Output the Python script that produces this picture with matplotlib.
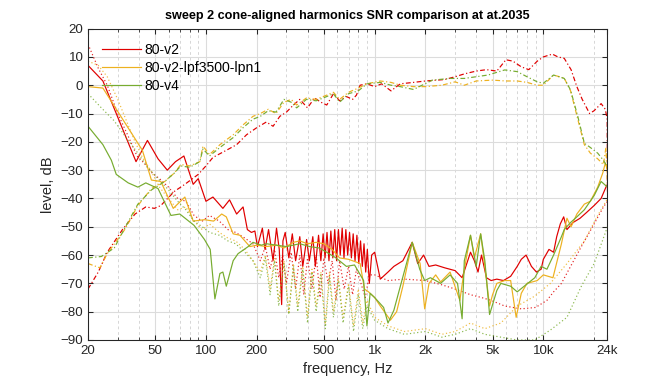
import matplotlib
matplotlib.use('Agg')
import matplotlib.pyplot as plt
from matplotlib.ticker import FixedLocator, NullFormatter

plt.rcParams['font.family'] = ['Liberation Sans', 'DejaVu Sans']

# values (Hz, dB)

# 80-v2 : harmonics (solid)
f_v2_h = [20, 24.5, 38.5, 45, 52, 59, 66, 74, 84, 90, 100, 110, 126, 138, 152, 166, 176, 186, 195, 202,
          216, 224, 235, 250, 262, 272, 281, 286, 295, 310, 325, 340, 360, 375, 395, 410, 430, 445, 465,
          480, 495, 508, 522, 536, 550, 565, 580, 595, 610, 625, 642, 658, 675, 692, 710, 728, 746, 765, 785,
          805, 825, 845, 865, 885, 905, 930, 960, 1000,
          1080, 1200, 1300, 1470, 1670, 1800, 1950, 2100, 2300, 2600, 3000, 3300, 3700, 3900, 4100, 4300, 4600, 4900, 5300, 5800,
          6400, 7000, 7400, 7900, 8500, 9100, 9700, 10000, 10800, 11500, 12000, 12600, 13200, 13800, 15000, 16500, 18000, 20000, 22000, 23500,
          24000]
v2_h = [7, 1.5, -27, -19.5, -26, -30, -27, -25, -35, -33, -41, -39.5, -43.5, -40.5, -45.5, -43, -51, -52, -51.5, -57,
        -50.5, -58, -51, -62, -50.5, -58, -77.5, -55, -52, -61, -52.5, -62, -53.5, -64, -54.5, -62, -53.5, -64, -53,
        -62, -52.5, -61, -52, -62, -51.5, -61, -51, -62, -51, -60, -50.5, -61, -51, -60, -52, -61, -52.5, -62, -53,
        -63, -55, -64, -56, -66, -58, -70, -60, -59,
        -68.5, -66, -64, -62, -55.5, -63, -60, -64, -63.5, -64.5, -65.5, -68, -59, -62, -66, -60, -68, -69, -68.5, -69,
        -67.5, -64, -61.5, -60, -64, -66, -65, -61.5, -58, -59, -53.5, -49, -46.5, -51, -48.5, -47, -45, -42.5, -40, -36,
        -35]

# 80-v2 : SNR (dash-dot)
f_v2_s = [20, 23, 26, 32, 38, 44, 49.5, 54, 65, 75, 90, 100, 110, 132, 152, 174, 200, 228, 250, 274,
          300, 330, 360, 400, 440, 480, 520, 570, 620, 680, 740, 780, 820, 900, 1000, 1100, 1250, 1420, 1700, 2000,
          2600, 3000, 3400, 4000, 4600, 5300, 6000, 6600, 7400, 8200, 9200, 10000, 11300, 12200, 13300, 14600, 15800, 17000, 18800, 20000,
          22000, 23300, 23900, 24000]
v2_s = [-72, -66, -59, -51, -45.5, -43, -43.5, -42.5, -37.5, -35, -31.5, -28.5, -25.5, -23, -21, -17.5, -15, -13, -14.5, -11,
        -9.5, -7, -5, -8, -4.5, -6, -7, -3, -5.5, -4, -5, -3.5, 0, 0.5, -0.5, 0.5, -2, 0.5, 1, 1.5,
        2, 3, 4, 5, 5.5, 5, 9, 8.5, 6.5, 5.5, 8.5, 10, 11, 10, 9.5, 5.5, -0.5, -5, -10, -9,
        -6.5, -8.5, -12, -38]

# 80-v2 : noise (dotted)
f_v2_n = [20, 23, 26, 30, 34.6, 39, 43, 48, 53, 60, 68, 76, 85, 95, 105, 120, 135, 150, 170, 190,
          210, 225, 240, 255, 270, 285, 300, 320, 340, 360, 380, 400, 425, 450, 475, 500, 530, 560, 590, 620,
          660, 700, 740, 780, 830, 880, 930, 1000, 1200, 1500, 2000, 2500, 3000, 3700, 4300, 4900, 5900, 7400, 9000, 10500,
          11500, 12800, 14500, 16800, 20000, 22700, 24000]
v2_n = [14.5, 6, 0, -10, -18, -25, -27.5, -31, -33, -36, -40, -41, -46, -48, -46, -48, -51, -52, -54, -56,
        -62, -57, -65, -58, -68, -60, -70, -59, -72, -60, -74, -61, -72, -60, -75, -61, -70, -62, -76, -62,
        -72, -64, -74, -65, -70, -75, -67, -67, -69, -68.5, -69, -70.5, -72, -74, -75, -76, -78, -79, -78.5, -76,
        -73, -70, -64, -57, -49, -43, -41]

# 80-v2-lpf3500-lpn1
f_lpf_h = [20, 24.5, 42, 47.5, 54, 64, 75, 84, 98, 111, 124, 132, 145, 159, 182, 200, 228, 262, 290, 330,
           360, 400, 450, 500, 560, 620, 700, 780, 820, 870, 920, 1000, 1080, 1240, 1350, 1470, 1670, 1860, 1980, 2100,
           2300, 2460, 2800, 3200, 3400, 3700, 3900, 4250, 4500, 4800, 5000, 5300, 5900, 6400, 6900, 7400, 8000, 9200, 10000, 11400,
           12800, 13800, 14600, 15800, 17500, 19000, 21000, 22500, 23300, 24000]
lpf_h = [-0.5, -1, -23, -33.5, -34, -43.5, -39.5, -48, -47.5, -48, -45.5, -46.5, -52.5, -53, -57, -56.5, -57, -56.5, -57.5, -55.5,
         -55, -56, -55.5, -56, -58, -61, -61.5, -62.5, -63, -72, -73, -75, -78, -83, -80, -71, -55.5, -63, -79, -70,
         -67, -69.5, -66, -76, -65, -53, -61, -52.5, -64, -78, -74, -70, -69, -69, -82, -73.5, -70, -69, -67, -68,
         -56, -47, -50, -45.5, -42, -41, -36, -31, -27.5, -30]

f_lpf_s = [20, 23.5, 26, 33, 39.5, 47.5, 57, 65, 71, 80, 92, 96, 105, 121, 145, 166, 190, 210, 234, 260,
           290, 320, 345, 394, 450, 520, 570, 620, 700, 800, 900, 1080, 1250, 1420, 1700, 2000, 2500, 3000, 3400, 4000,
           5000, 6000, 7000, 8000, 9200, 10000, 11500, 13300, 14500, 16000, 17500, 19000, 21000, 22700, 23500, 24000]
lpf_s = [-63, -64.5, -59.5, -51, -42.5, -36.5, -34, -31, -28, -28.5, -27, -21.5, -24.5, -21, -17.5, -14, -11, -10, -8.5, -10,
         -6, -5, -7, -4.5, -5, -3.5, -2.5, -5, -2.5, -1, 0.5, 1.5, 1, 0, -0.5, -0.5, 0, 1.2, 0, 1.5,
         1.8, 1.5, 1.5, 1, 0, 0, 3.6, 2.5, -2, -12, -21, -24, -26, -28, -22, -36]

f_lpf_n = [20, 23, 26, 30, 34, 38, 42, 47, 53, 60, 68, 76, 85, 95, 105, 120, 135, 150, 170, 190,
           210, 225, 240, 255, 270, 290, 310, 330, 350, 375, 400, 425, 450, 480, 510, 540, 570, 610, 650, 700,
           750, 800, 850, 900, 1000, 1200, 1500, 2000, 2500, 3000, 3700, 4500, 5600, 7000, 8900, 11000, 13800, 17500, 21000, 23000,
           24000]
lpf_n = [8.5, 7, 3, -5, -13, -20, -25.5, -30, -36, -40, -44, -43, -48, -51, -49, -52, -54, -55, -58, -62,
         -66, -60, -72, -61, -76, -62, -80, -63, -78, -64, -82, -65, -78, -66, -84, -66, -80, -68, -82, -70,
         -85, -72, -84, -76, -82, -85, -87, -86, -88, -87, -84, -86, -84, -78, -74.5, -70, -63, -55, -46, -42,
         -40]

# 80-v4
f_v4_h = [20, 24.5, 27.5, 29.4, 34.6, 39.5, 44, 52, 62, 70, 85, 98, 106, 113, 121, 126, 132, 145, 155, 178,
          190, 213, 228, 262, 300, 360, 412, 470, 520, 590, 680, 760, 860, 900, 940, 1000, 1130, 1200, 1300, 1420,
          1670, 1850, 1980, 2140, 2300, 2460, 2800, 3100, 3300, 3400, 3700, 4000, 4250, 4500, 4800, 5300, 5600, 6400, 7000, 7700,
          8900, 9700, 10500, 11500, 12800, 13300, 14500, 15800, 17500, 20000, 22000, 24000]
v4_h = [-14.5, -21, -26.5, -31.5, -34.5, -36, -34.5, -36.5, -46, -45.5, -49.5, -54.5, -58, -75.5, -66.5, -66, -71, -62, -59.5, -57,
        -55.5, -56.5, -56, -56.5, -57, -56, -57, -57.5, -59, -61, -64, -63.5, -69, -85, -73.5, -75, -78.5, -84, -79.5, -71,
        -55.5, -65, -69, -68, -69, -70, -67, -70, -82.5, -62, -53, -64, -52.5, -62, -81, -72.5, -70, -71, -73, -71,
        -68, -64, -65, -60, -53.5, -51, -48.5, -46.5, -44, -39, -34, -36]

f_v4_s = [20, 24, 28.6, 33, 39.5, 47.5, 57, 65, 71, 80, 92, 96, 105, 121, 145, 166, 190, 210, 234, 260,
          290, 320, 345, 394, 450, 520, 570, 620, 700, 800, 900, 1080, 1250, 1420, 1700, 2200, 2800, 3400, 4700, 5900,
          7000, 8000, 9200, 10000, 11500, 13300, 14500, 16000, 17500, 19000, 21000, 22700, 24000]
v4_s = [-61, -60.5, -57.5, -50.5, -42, -37, -34, -31, -28.5, -29, -27, -22.5, -25, -22, -18.5, -15, -12, -11, -9, -9.5,
        -5, -6, -8, -5, -5.5, -4, -3, -6, -3, -2, 0.5, 1, 0, -0.5, -1.5, 1.8, 2.4, 2.4, 3.6, 5.4,
        4.8, 3, 1.2, 0.7, 3.6, 2.4, -1.7, -11, -20.5, -22, -24, -26.5, -29]

f_v4_n = [20, 24, 28.5, 34.6, 39.5, 45, 52, 60, 68, 76, 85, 95, 105, 120, 135, 150, 170, 190, 210, 225,
          240, 255, 270, 290, 310, 330, 350, 375, 400, 425, 450, 480, 510, 540, 570, 610, 650, 700, 750, 800,
          850, 900, 1000, 1200, 1500, 2000, 2500, 3000, 3700, 4500, 5600, 7000, 8900, 11000, 13800, 16800, 20000, 22700, 24000]
v4_n = [-3, -8, -12.5, -19.5, -24, -29, -33, -37, -41, -44, -48, -50, -52, -53, -55, -56, -59, -62, -68, -61,
        -74, -62, -78, -63, -81, -64, -80, -65, -84, -66, -80, -67, -86, -68, -82, -69, -84, -71, -87, -74,
        -86, -78, -83, -86, -88, -87, -89, -88, -86, -88, -89, -90, -90, -86.5, -82, -71, -63, -54, -50]

labels = ['80-v2', '80-v2-lpf3500-lpn1', '80-v4']
colors = ['#e00000', '#edb120', '#77ac30']

x_ticks = [20, 50, 100, 200, 500, 1000, 2000, 5000, 10000, 24000]
x_ticklabels = ['20', '50', '100', '200', '500', '1k', '2k', '5k', '10k', '24k']
x_minor = [30, 40, 60, 70, 80, 90, 300, 400, 600, 700, 800, 900,
           3000, 4000, 6000, 7000, 8000, 9000, 20000]

fig = plt.figure(figsize=(7, 4), dpi=96)
ax = fig.add_axes([0.131, 0.1146, 0.773, 0.8109])

sets = [
    (f_v2_h, v2_h, f_v2_s, v2_s, f_v2_n, v2_n),
    (f_lpf_h, lpf_h, f_lpf_s, lpf_s, f_lpf_n, lpf_n),
    (f_v4_h, v4_h, f_v4_s, v4_s, f_v4_n, v4_n),
]
handles = []
for (fh, h, fs, s, fn, n), lab, c in zip(sets, labels, colors):
    ln, = ax.plot(fh, h, color=c, lw=0.9, label=lab)
    ax.plot(fs, s, color=c, lw=0.9, linestyle=(0, (4, 2, 1, 2)))
    ax.plot(fn, n, color=c, lw=0.9, linestyle=(0, (1, 2)), alpha=0.85)
    handles.append(ln)

ax.set_xscale('log')
ax.set_xlim(20, 24000)
ax.set_ylim(-90, 20)
ax.xaxis.set_major_locator(FixedLocator(x_ticks))
ax.xaxis.set_minor_locator(FixedLocator(x_minor))
ax.xaxis.set_minor_formatter(NullFormatter())
ax.set_xticklabels(x_ticklabels)
ax.set_yticks(range(-90, 21, 10))

ax.grid(True, which='major', color='#dcdcdc', lw=0.8)
ax.grid(True, which='minor', axis='x', color='#d4d4d4', lw=0.7, linestyle=(0, (3, 3)))
ax.set_axisbelow(True)

ax.tick_params(which='both', direction='in', top=True, right=True, labelsize=10, colors='#262626')
ax.tick_params(which='major', length=4, width=0.8)
ax.tick_params(which='minor', length=2, width=0.6)
for sp in ax.spines.values():
    sp.set_color('#262626')
    sp.set_linewidth(0.8)

ax.set_xlabel('frequency, Hz', fontsize=11, color='#262626')
ax.set_ylabel('level, dB', fontsize=11, color='#262626')
ax.set_title('sweep 2 cone-aligned harmonics SNR comparison at at.2035', fontsize=9.5, fontweight='bold', pad=7)

ax.legend(handles=handles, loc='upper left', bbox_to_anchor=(0.0, 1.0), frameon=False,
          fontsize=10.5, handlelength=2.8, handletextpad=0.25, labelspacing=0.3, borderaxespad=0.6)

fig.savefig('out.png', dpi=96)
